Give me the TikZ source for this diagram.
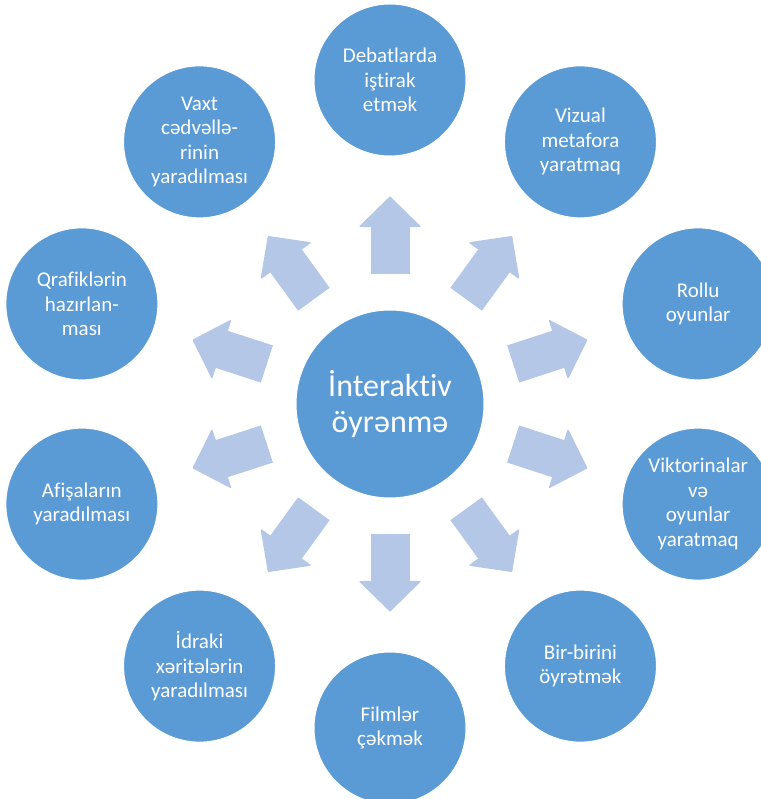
\documentclass[tikz,border=0pt]{standalone}
\usepackage{fontspec}
\setmainfont{Carlito}[RawFeature={-liga;-clig;-calt;-rlig;-dlig}]
\usetikzlibrary{arrows.meta}
\definecolor{ciblue}{RGB}{91,155,213}
\definecolor{arblue}{RGB}{180,199,231}
\tikzset{
  ocirc/.style={circle, fill=ciblue, draw=white, line width=1pt, text=white, align=center,
                inner sep=0pt, minimum size=152pt, font=\fontsize{21pt}{24.5pt}\selectfont},
  ccirc/.style={ocirc, minimum size=188pt, font=\fontsize{32pt}{36pt}\selectfont},
  barr/.style={-{Triangle[length=31pt,width=63pt,line width=1.5pt,round]}, line width=39pt, arblue,
               shorten <=35pt, shorten >=40pt},
}

\begin{document}
\begin{tikzpicture}
        \useasboundingbox (-390pt,-395pt) rectangle (370pt,404pt);
        \node[ccirc](core){İnteraktiv\\öyrənmə};
        % outer ring, 36 degrees apart
        \node[ocirc] at (90:324pt)(debat){Debatlarda\\iştirak\\etmək};
        \node[ocirc] at (54:324pt)(vizual){Vizual\\metafora\\yaratmaq};
        \node[ocirc] at (18:324pt)(rollu){Rollu\\oyunlar};
        \node[ocirc] at (-18:324pt)(viktor){Viktorinalar\\və\\oyunlar\\yaratmaq};
        \node[ocirc] at (-54:324pt)(birbiri){Bir-birini\\öyrətmək};
        \node[ocirc] at (-90:324pt)(film){Filmlər\\çəkmək};
        \node[ocirc] at (-126:324pt)(idrak){İdraki\\xəritələrin\\yaradılması};
        \node[ocirc] at (-162:324pt)(afisa){Afişaların\\yaradılması};
        \node[ocirc] at (162:324pt)(qrafik){Qrafiklərin\\hazırlan-\\ması};
        \node[ocirc] at (126:324pt)(vaxt){Vaxt\\cədvəllə-\\rinin\\yaradılması};
        \draw[barr](core)--(debat);\draw[barr](core)--(vizual);\draw[barr](core)--(rollu);
        \draw[barr](core)--(viktor);\draw[barr](core)--(birbiri);\draw[barr](core)--(film);
        \draw[barr](core)--(idrak);\draw[barr](core)--(afisa);\draw[barr](core)--(qrafik);
        \draw[barr](core)--(vaxt);
    \end{tikzpicture}
\end{document}
